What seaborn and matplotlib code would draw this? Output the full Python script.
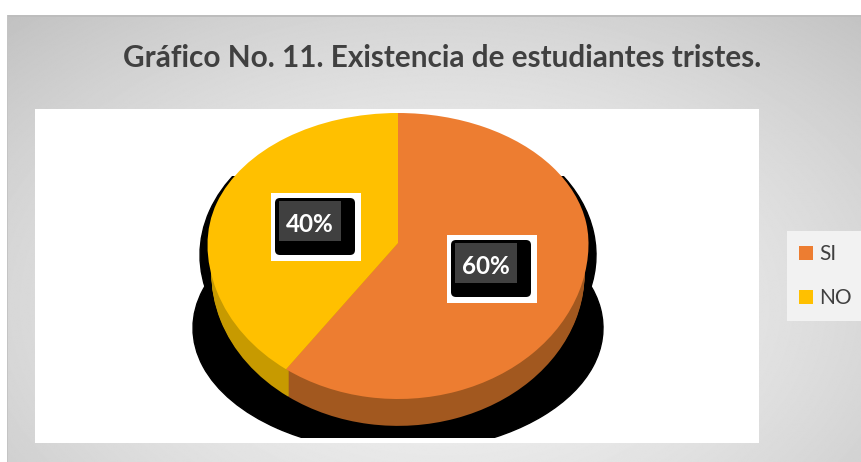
import numpy as np
import matplotlib
matplotlib.use("Agg")
import matplotlib.pyplot as plt
from matplotlib.patches import Rectangle, FancyBboxPatch
import seaborn as sns

categories = ['SI', 'NO']
values = [60, 40]
title_text = 'Gráfico No. 11. Existencia de estudiantes tristes.'

W, H = 862, 462
sns.set_theme(style='white')
plt.rcParams['font.family'] = ['Lato', 'DejaVu Sans']

top_colors = sns.color_palette(['#ED7D31', '#FFC000'])
side_colors = sns.color_palette(['#A2581F', '#C79A00'])
text_grey = '#404040'

fig = plt.figure(figsize=(W / 100, H / 100), dpi=100, facecolor='white')


def full_axes():
    ax = fig.add_axes([0, 0, 1, 1])
    ax.patch.set_alpha(0)
    return ax


# background panel with the soft radial gradient, axes are in image pixels
bg = full_axes()
yy, xx = np.mgrid[0:H, 0:W]
r = np.sqrt(((xx - 440) / 520) ** 2 + ((yy - 300) / 340) ** 2)
shade = np.clip(0.95 - 0.14 * r ** 1.6, 0, 1)
bg.imshow(shade, cmap='gray', vmin=0, vmax=1, extent=(7, W, H, 15), aspect='auto')
bg.set_xlim(0, W)
bg.set_ylim(H, 0)
bg.axis('off')
bg.add_patch(Rectangle((7, 15), W - 7, 1.5, color='#bdbdbd', lw=0))
bg.add_patch(Rectangle((7, 15), 1.5, H - 15, color='#c4c4c4', lw=0))
bg.add_patch(Rectangle((35, 109), 724, 334, color='white', lw=0))
bg.text(442, 58, title_text, ha='center', va='center', fontsize=21.4,
        fontweight='bold', color=text_grey)

# black stepped shadow under the pie, two stretched silhouettes cut flat top and bottom
clip_box = Rectangle((35, 176), 724, 262, transform=bg.transData)
for cx, cy, rx, ry in [(398, 255, 198, 143), (398, 328, 205, 124)]:
    sh = full_axes()
    wedges, _ = sh.pie(values, colors=['black', 'black'], startangle=90,
                       counterclock=False, wedgeprops={'lw': 1, 'edgecolor': 'black'})
    sh.set_aspect('auto')
    sh.set_xlim(-cx / rx, (W - cx) / rx)
    sh.set_ylim((cy - H) / ry, cy / ry)
    for w in wedges:
        w.set_clip_on(True)
        w.set_clip_path(clip_box)
    sh.axis('off')

# pie: the apex sits above the ellipse centre, so the y scale differs above and below 0
up, down = 130, 156
pie_ax = full_axes()
pie_ax.set_yscale('function', functions=(
    lambda y: np.where(np.asarray(y) >= 0, np.asarray(y) * up, np.asarray(y) * down),
    lambda v: np.where(np.asarray(v) >= 0, np.asarray(v) / up, np.asarray(v) / down)))
for depth in range(30, 0, -1):
    pie_ax.pie(values, colors=side_colors, startangle=90, counterclock=False, radius=0.98,
               center=(0, -depth / down), wedgeprops={'lw': 0})
top_wedges, _ = pie_ax.pie(values, colors=top_colors, startangle=90, counterclock=False,
                           wedgeprops={'lw': 0})
pie_ax.set_aspect('auto')
pie_ax.set_xlim(-398 / 190.5, (W - 398) / 190.5)
pie_ax.set_ylim(-(H - 243) / down, 243 / up)
pie_ax.axis('off')

# data labels and legend on top, again in image pixels
over = full_axes()
over.set_xlim(0, W)
over.set_ylim(H, 0)
over.axis('off')
label_boxes = {'SI': (447, 235), 'NO': (271, 193)}
for cat, val in zip(categories, values):
    x0, y0 = label_boxes[cat]
    over.add_patch(Rectangle((x0, y0), 90, 68, color='white', lw=0))
    over.add_patch(FancyBboxPatch((x0 + 4, y0 + 5), 80, 57,
                                  boxstyle='round,pad=0,rounding_size=5',
                                  fc='black', ec='black', lw=0))
    over.add_patch(Rectangle((x0 + 8, y0 + 8), 62, 40, color='#404040', lw=0))
    over.text(x0 + 39, y0 + 32, f'{val}%', ha='center', va='center', fontsize=17.5,
              fontweight='bold', color='white')

over.add_patch(Rectangle((787, 231), 74, 90, color='#f2f2f2', lw=0))
fig.legend(top_wedges, categories, loc='center', bbox_to_anchor=(825 / W, 1 - 276 / H),
           frameon=False, fontsize=15, labelcolor=text_grey, handlelength=0.67,
           handleheight=0.67, handletextpad=0.3, labelspacing=1.15)

fig.savefig('out.png', dpi=100, facecolor='white')
